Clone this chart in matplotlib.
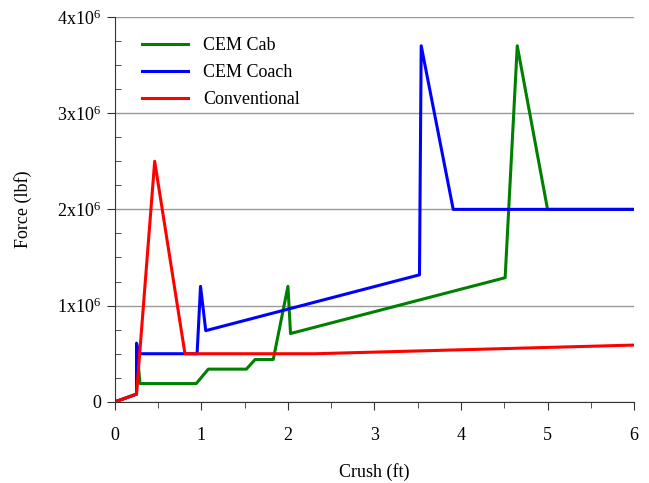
import numpy as np
import matplotlib
matplotlib.use("Agg")
import matplotlib.pyplot as plt
from matplotlib.ticker import MultipleLocator, FuncFormatter

plt.rcParams['font.family'] = ['Liberation Serif', 'DejaVu Serif']
plt.rcParams['mathtext.fontset'] = 'custom'
plt.rcParams['mathtext.rm'] = 'Liberation Serif'

# crush (ft) / force (lbf)
cab_x = [0, 0.25, 0.26, 0.29, 0.94, 1.08, 1.52, 1.62, 1.83, 2.0, 2.03, 4.51, 4.65, 5.0, 6.0]
cab_y = [0, 0.08e6, 0.5e6, 0.19e6, 0.19e6, 0.34e6, 0.34e6, 0.44e6, 0.44e6, 1.2e6, 0.71e6,
         1.29e6, 3.7e6, 2.0e6, 2.0e6]

coach_x = [0, 0.25, 0.25, 0.28, 0.95, 0.99, 1.05, 3.52, 3.54, 3.91, 6.0]
coach_y = [0, 0.08e6, 0.61e6, 0.5e6, 0.5e6, 1.2e6, 0.74e6, 1.32e6, 3.7e6, 2.0e6, 2.0e6]

conv_x = [0, 0.25, 0.46, 0.81, 2.31, 6.0]
conv_y = [0, 0.08e6, 2.5e6, 0.5e6, 0.5e6, 0.59e6]

fig = plt.figure(figsize=(6.49, 4.83), dpi=100)
ax = fig.add_axes([0.177, 0.168, 0.8, 0.797])

ax.plot(cab_x, cab_y, color='#008000', lw=2.2, label='CEM Cab')
ax.plot(coach_x, coach_y, color='#0000ff', lw=2.2, label='CEM Coach')
ax.plot(conv_x, conv_y, color='#ff0000', lw=2.2, label='Conventional')

ax.set_xlim(0, 6)
ax.set_ylim(0, 4e6)
ax.xaxis.set_major_locator(MultipleLocator(1))
ax.xaxis.set_minor_locator(MultipleLocator(0.5))
ax.yaxis.set_major_locator(MultipleLocator(1e6))
ax.yaxis.set_minor_locator(MultipleLocator(0.25e6))

def yfmt(v, pos):
    n = int(round(v / 1e6))
    if n == 0:
        return '0'
    return r'$\mathregular{%dx10^6}$' % n

ax.yaxis.set_major_formatter(FuncFormatter(yfmt))

ax.tick_params(axis='both', which='major', labelsize=13, length=6, color='#333333', pad=4)
ax.tick_params(axis='x', which='minor', direction='out', length=4, color='#333333')
ax.tick_params(axis='y', which='minor', direction='in', length=4, color='#333333')
ax.tick_params(axis='x', which='major', pad=12)

ax.yaxis.grid(True, color='#999999', lw=1)
ax.set_axisbelow(True)
for gl in ax.get_ygridlines()[-1:]:
    gl.set_visible(False)

for s in ['top', 'right']:
    ax.spines[s].set_visible(False)
for s in ['left', 'bottom']:
    ax.spines[s].set_color('#333333')

ax.set_xlabel('Crush (ft)', fontsize=13, labelpad=14)
ax.set_ylabel('Force (lbf)', fontsize=13, labelpad=18)

ax.legend(loc='upper left', frameon=False, fontsize=13, handlelength=2.6,
          bbox_to_anchor=(0.02, 0.99), labelspacing=0.55)

fig.savefig('out.png', dpi=100)
